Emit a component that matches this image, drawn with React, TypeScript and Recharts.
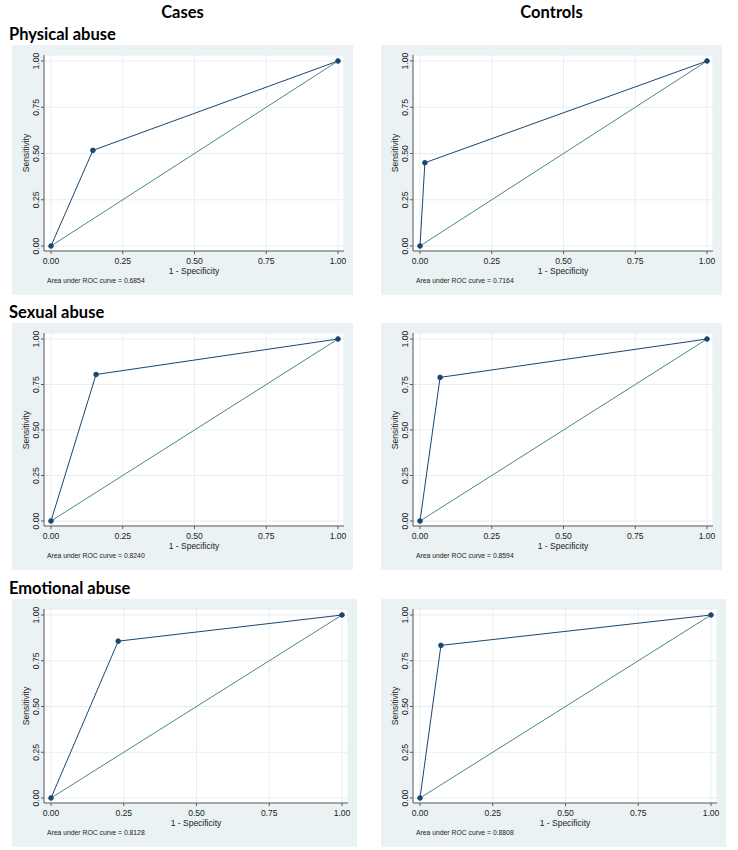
import { CartesianGrid, Line, LineChart, XAxis, YAxis } from 'recharts'

const abuseTypes = ['Physical abuse', 'Sexual abuse', 'Emotional abuse']
const groupNames = ['Cases', 'Controls']

// 1 - specificity / sensitivity at the single cut-off, one entry per abuse type
const casesFpr = [0.146, 0.157, 0.231]
const casesSens = [0.517, 0.805, 0.857]
const controlsFpr = [0.017, 0.07, 0.072]
const controlsSens = [0.45, 0.789, 0.834]
const casesAuc = ['0.6854', '0.8240', '0.8128']
const controlsAuc = ['0.7164', '0.8594', '0.8808']
const axisTicks = [0, 0.25, 0.5, 0.75, 1]

const NAVY = '#1a476f'
const REF = '#4a8a78'
const BG = '#eaf2f3'
const AXIS = '#5a5a5a'
const FONT = '"Liberation Sans", Arial, sans-serif'
const TITLE_FONT = 'Lato, "Open Sans", sans-serif'

const rowTop = [45, 323, 599]
const rowHeight = [250, 247, 248]
const rowWidth = [341, 341, 345]
const colLeft = [12, 381]

const XTick = ({ x, y, payload }: any) => (
    <text x={x} y={y + 5.4} textAnchor="middle" dominantBaseline="central" fontSize={8.6} fontFamily={FONT} fill="#222">
        {Number(payload.value).toFixed(2)}
    </text>
)

const YTick = ({ x, y, payload }: any) => (
    <text
        x={x - 3.5}
        y={y}
        transform={`rotate(-90 ${x - 3.5} ${y})`}
        textAnchor="middle"
        dominantBaseline="central"
        fontSize={8.6}
        fontFamily={FONT}
        fill="#222"
    >
        {Number(payload.value).toFixed(2)}
    </text>
)

function Panel({ left, top, width, height, fpr, sens, auc }: any) {
    const roc = [{ x: 0, y: 0 }, { x: fpr, y: sens }, { x: 1, y: 1 }]
    const diag = [{ x: 0, y: 0 }, { x: 1, y: 1 }]
    const plotW = width - 32 - 9
    const plotH = height - 10 - 44
    const xUnit = plotW - 13
    const yUnit = plotH - 11
    const xDomain = [-7 / xUnit, 1 + 6 / xUnit]
    const yDomain = [-5 / yUnit, 1 + 6 / yUnit]

    return (
        <div style={{ position: 'absolute', left, top, width, height, background: BG }}>
            <LineChart width={width} height={height} margin={{ top: 10, right: 9, bottom: 0, left: 0 }}>
                <CartesianGrid fill="#fff" stroke="#e6eff0" strokeWidth={1} />
                <XAxis
                    type="number"
                    dataKey="x"
                    domain={xDomain}
                    ticks={axisTicks}
                    allowDataOverflow
                    height={44}
                    stroke={AXIS}
                    tickSize={3}
                    tick={<XTick />}
                    label={{ value: '1 - Specificity', position: 'insideTop', offset: 17, fontSize: 8.5, fill: '#222', fontFamily: FONT }}
                />
                <YAxis
                    type="number"
                    dataKey="y"
                    domain={yDomain}
                    ticks={axisTicks}
                    allowDataOverflow
                    width={32}
                    stroke={AXIS}
                    tickSize={3}
                    tick={<YTick />}
                />
                <Line data={diag} dataKey="y" type="linear" stroke={REF} strokeWidth={1} dot={false} isAnimationActive={false} />
                <Line
                    data={roc}
                    dataKey="y"
                    type="linear"
                    stroke={NAVY}
                    strokeWidth={1}
                    dot={{ r: 2.3, fill: NAVY, stroke: NAVY, strokeWidth: 1 }}
                    isAnimationActive={false}
                />
            </LineChart>
            <div
                style={{
                    position: 'absolute',
                    left: 14,
                    top: 10 + plotH / 2,
                    transform: 'translate(-50%, -50%) rotate(-90deg)',
                    whiteSpace: 'nowrap',
                    fontFamily: FONT,
                    fontSize: 8.5,
                    lineHeight: 1,
                    color: '#222',
                }}
            >
                Sensitivity
            </div>
            <div
                style={{
                    position: 'absolute',
                    left: 35,
                    top: height - 18.5,
                    whiteSpace: 'nowrap',
                    fontFamily: FONT,
                    fontSize: 6.8,
                    lineHeight: '8px',
                    color: '#222',
                }}
            >
                Area under ROC curve = {auc}
            </div>
        </div>
    )
}

export default function App() {
    const titleStyle = {
        position: 'absolute' as const,
        fontFamily: TITLE_FONT,
        fontWeight: 700,
        fontSize: 16.5,
        lineHeight: '16px',
        color: '#000',
        whiteSpace: 'nowrap' as const,
    }
    return (
        <div style={{ position: 'absolute', left: 0, top: 0, width: 738, height: 850, background: '#fff' }}>
            {groupNames.map((g, c) => (
                <div
                    key={g}
                    style={{ ...titleStyle, left: colLeft[c], width: rowWidth[0], top: 4, textAlign: 'center' }}
                >
                    {g}
                </div>
            ))}
            {abuseTypes.map((t, r) => (
                <div key={t}>
                    <div style={{ ...titleStyle, left: 9, top: rowTop[r] - 19.5 }}>{t}</div>
                    <Panel
                        left={colLeft[0]}
                        top={rowTop[r]}
                        width={rowWidth[r]}
                        height={rowHeight[r]}
                        fpr={casesFpr[r]}
                        sens={casesSens[r]}
                        auc={casesAuc[r]}
                    />
                    <Panel
                        left={colLeft[1]}
                        top={rowTop[r]}
                        width={rowWidth[r]}
                        height={rowHeight[r]}
                        fpr={controlsFpr[r]}
                        sens={controlsSens[r]}
                        auc={controlsAuc[r]}
                    />
                </div>
            ))}
        </div>
    )
}
